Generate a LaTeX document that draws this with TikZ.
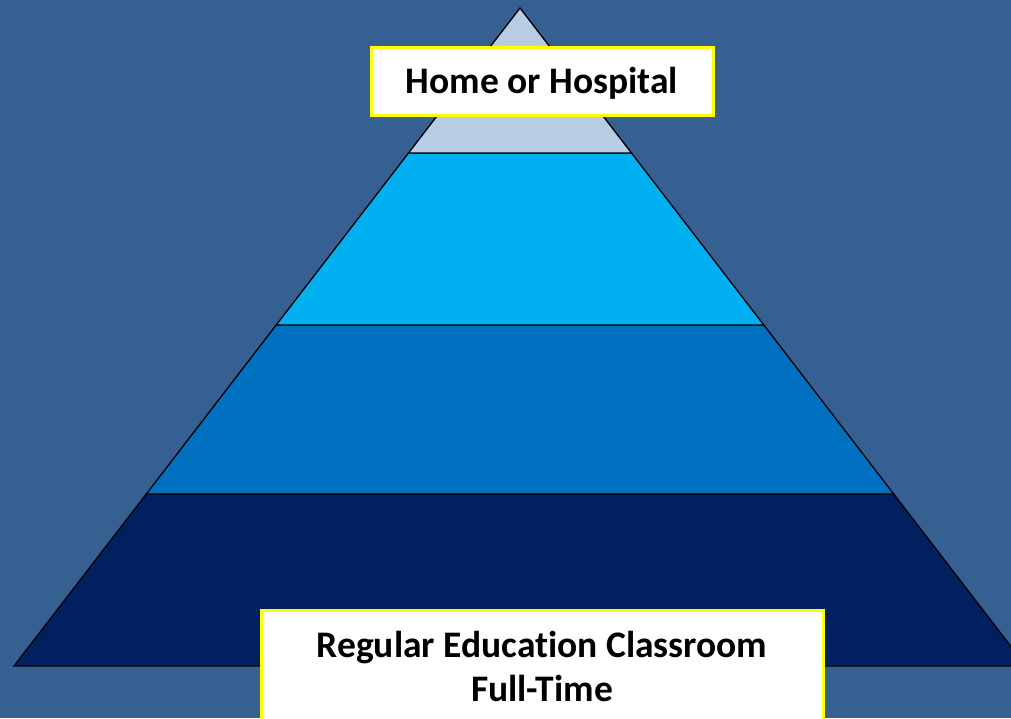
\documentclass[tikz,border=0pt]{standalone}
\usepackage{fontspec}
\setmainfont{Carlito}[Ligatures=NoCommon]
\definecolor{bgblue}{HTML}{366092}
\definecolor{tierA}{HTML}{B8CCE4}
\definecolor{tierB}{HTML}{00B0F0}
\definecolor{tierC}{HTML}{0070C0}
\definecolor{tierD}{HTML}{002060}
\definecolor{labelrim}{HTML}{FFFF00}
\begin{document}
\begin{tikzpicture}[x=1pt,y=-1pt,
  tier/.style={draw=black, line width=1.3pt, line join=miter},
  labelbox/.style={draw=labelrim, fill=white, line width=3pt},
  labeltext/.style={font=\fontsize{37.5}{44}\selectfont\bfseries, align=center, inner sep=0pt}]
\useasboundingbox (0,0) rectangle (1011,718);
\clip (0,0) rectangle (1011,718);
\fill[bgblue] (0,0) rectangle (1011,718);
% pyramid tiers, apex (520,8), base from 14 to 1026 at y=666
\coordinate (apex) at (520,8);
\filldraw[tier, fill=tierD] (146.3,494) -- (893.7,494) -- (1026,666) -- (14,666) -- cycle;
\filldraw[tier, fill=tierC] (276.2,325) -- (763.8,325) -- (893.7,494) -- (146.3,494) -- cycle;
\filldraw[tier, fill=tierB] (408.5,153) -- (631.5,153) -- (763.8,325) -- (276.2,325) -- cycle;
\filldraw[tier, fill=tierA] (apex) -- (631.5,153) -- (408.5,153) -- cycle;
% labels (the lower box runs past the bottom edge)
\draw[labelbox] (371,47) rectangle (713,115);
\node[labeltext, anchor=base] (top) at (542,93) {Home or Hospital};
\draw[labelbox] (261,610) rectangle (823,740);
\node[labeltext, anchor=base] (bottom) at (542,701) {Regular Education Classroom\\Full-Time};
\end{tikzpicture}
\end{document}
